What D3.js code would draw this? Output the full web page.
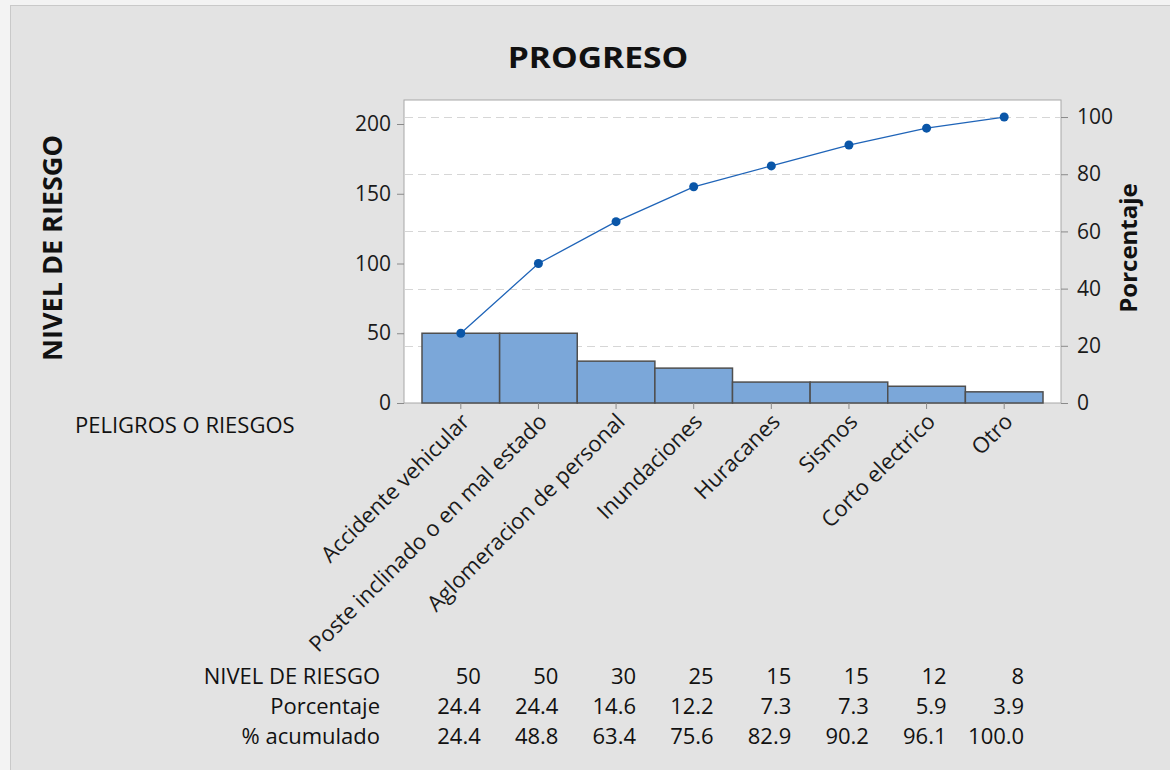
<!DOCTYPE html>
<html>
<head>
<meta charset="utf-8">
<script src="https://cdn.jsdelivr.net/npm/d3@7"></script>
<style>
  body { margin: 0; background: #f3f3f3; }
  svg { display: block; font-family: "Open Sans", "Noto Sans", sans-serif; }
</style>
</head>
<body>
<svg width="1170" height="770"></svg>
<script>
// data
var categories = ["Accidente vehicular", "Poste inclinado o en mal estado", "Aglomeracion de personal",
                  "Inundaciones", "Huracanes", "Sismos", "Corto electrico", "Otro"];
var values = [50, 50, 30, 25, 15, 15, 12, 8];
var percents = ["24.4", "24.4", "14.6", "12.2", "7.3", "7.3", "5.9", "3.9"];
var cumulative = ["24.4", "48.8", "63.4", "75.6", "82.9", "90.2", "96.1", "100.0"];
var leftTicks = [0, 50, 100, 150, 200];
var rightTicks = [0, 20, 40, 60, 80, 100];
var rowLabels = ["NIVEL DE RIESGO", "Porcentaje", "% acumulado"];

var svg = d3.select("svg");
var total = d3.sum(values);

// frame
svg.append("rect").attr("x", 10.5).attr("y", 5.5).attr("width", 1170).attr("height", 780)
    .attr("fill", "#e3e3e3").attr("stroke", "#c9c9c9");

var plot = { left: 404, right: 1061, top: 100, bottom: 403 };

var x = d3.scaleBand().domain(categories).range([422, 1043]).padding(0);
var y = d3.scaleLinear().domain([0, 200]).range([plot.bottom, 124]);
var yPct = d3.scaleLinear().domain([0, 100]).range([plot.bottom, y(total)]);

// plot background
svg.append("rect")
    .attr("x", plot.left).attr("y", plot.top)
    .attr("width", plot.right - plot.left).attr("height", plot.bottom - plot.top)
    .attr("fill", "#fff").attr("stroke", "#a8a8a8");

// dashed grid from the percentage axis
svg.append("g").selectAll("line")
    .data(rightTicks.filter(function (d) { return d > 0; }))
    .enter().append("line")
    .attr("x1", plot.left + 1).attr("x2", plot.right - 1)
    .attr("y1", function (d) { return Math.round(yPct(d)) + 0.5; })
    .attr("y2", function (d) { return Math.round(yPct(d)) + 0.5; })
    .attr("stroke", "#d6d6d6").attr("stroke-dasharray", "8,5");

// bars
svg.append("g").selectAll("rect")
    .data(values)
    .enter().append("rect")
    .attr("x", function (d, i) { return x(categories[i]); })
    .attr("y", function (d) { return y(d); })
    .attr("width", x.bandwidth())
    .attr("height", function (d) { return y(0) - y(d); })
    .attr("fill", "#7ba7d9").attr("stroke", "#4f4f4f").attr("stroke-width", 1.5);

// cumulative line
var cx = function (d, i) { return x(categories[i]) + x.bandwidth() / 2; };
var line = d3.line()
    .x(cx)
    .y(function (d) { return yPct(+d); });

svg.append("path").datum(cumulative)
    .attr("d", line).attr("fill", "none")
    .attr("stroke", "#1f64b8").attr("stroke-width", 1.3);

svg.append("g").selectAll("circle")
    .data(cumulative)
    .enter().append("circle")
    .attr("cx", cx).attr("cy", function (d) { return yPct(+d); })
    .attr("r", 4.5).attr("fill", "#0a56a8");

// axes
function styleAxis(g) {
    g.selectAll("path, line").attr("stroke", "#8a8a8a");
    g.selectAll("text").attr("fill", "#1a1a1a").style("font-size", "21px")
        .style("font-family", "'Open Sans', 'Noto Sans', sans-serif");
}

svg.append("g")
    .attr("transform", "translate(" + plot.left + ",0)")
    .call(d3.axisLeft(y).tickValues(leftTicks).tickSize(7).tickPadding(6).tickSizeOuter(0))
    .call(function (g) { g.select(".domain").remove(); })
    .call(styleAxis);

svg.append("g")
    .attr("transform", "translate(" + plot.right + ",0)")
    .call(d3.axisRight(yPct).tickValues(rightTicks).tickSize(7).tickPadding(9).tickSizeOuter(0))
    .call(function (g) { g.select(".domain").remove(); })
    .call(styleAxis);

var xAxis = svg.append("g")
    .attr("transform", "translate(0," + plot.bottom + ")")
    .call(d3.axisBottom(x).tickSize(6).tickSizeOuter(0))
    .call(function (g) { g.select(".domain").remove(); })
    .call(styleAxis);

xAxis.selectAll("text")
    .attr("text-anchor", "end")
    .attr("transform", "translate(10,20) rotate(-45)")
    .attr("x", 0).attr("y", 0).attr("dy", 0)
    .style("font-size", "22px");

// titles
svg.append("text").attr("transform", "translate(598,68) scale(1.2,1)")
    .attr("text-anchor", "middle").style("font-size", "28px").style("font-weight", "bold")
    .attr("fill", "#111").text("PROGRESO");

svg.append("text")
    .attr("transform", "translate(62,248) rotate(-90)")
    .attr("text-anchor", "middle").style("font-size", "27px").style("font-weight", "bold")
    .attr("fill", "#111").text("NIVEL DE RIESGO");

svg.append("text")
    .attr("transform", "translate(1137,248) rotate(-90)")
    .attr("text-anchor", "middle").style("font-size", "24px").style("font-weight", "bold")
    .attr("fill", "#111").text("Porcentaje");

svg.append("text").attr("x", 75).attr("y", 433)
    .style("font-size", "22px").attr("fill", "#111").text("PELIGROS O RIESGOS");

// table under the chart
var rows = [values.map(String), percents, cumulative];
var rowY = [684, 714, 744];
var table = svg.append("g").style("font-size", "22px").attr("fill", "#111");

table.selectAll(".rowlabel")
    .data(rowLabels)
    .enter().append("text")
    .attr("class", "rowlabel")
    .attr("x", 380).attr("y", function (d, i) { return rowY[i]; })
    .attr("text-anchor", "end").text(function (d) { return d; });

rows.forEach(function (row, r) {
    table.selectAll(".cell" + r)
        .data(row)
        .enter().append("text")
        .attr("class", "cell" + r)
        .attr("x", function (d, i) { return cx(d, i) + 20; })
        .attr("y", rowY[r])
        .attr("text-anchor", "end").text(function (d) { return d; });
});
</script>
</body>
</html>
